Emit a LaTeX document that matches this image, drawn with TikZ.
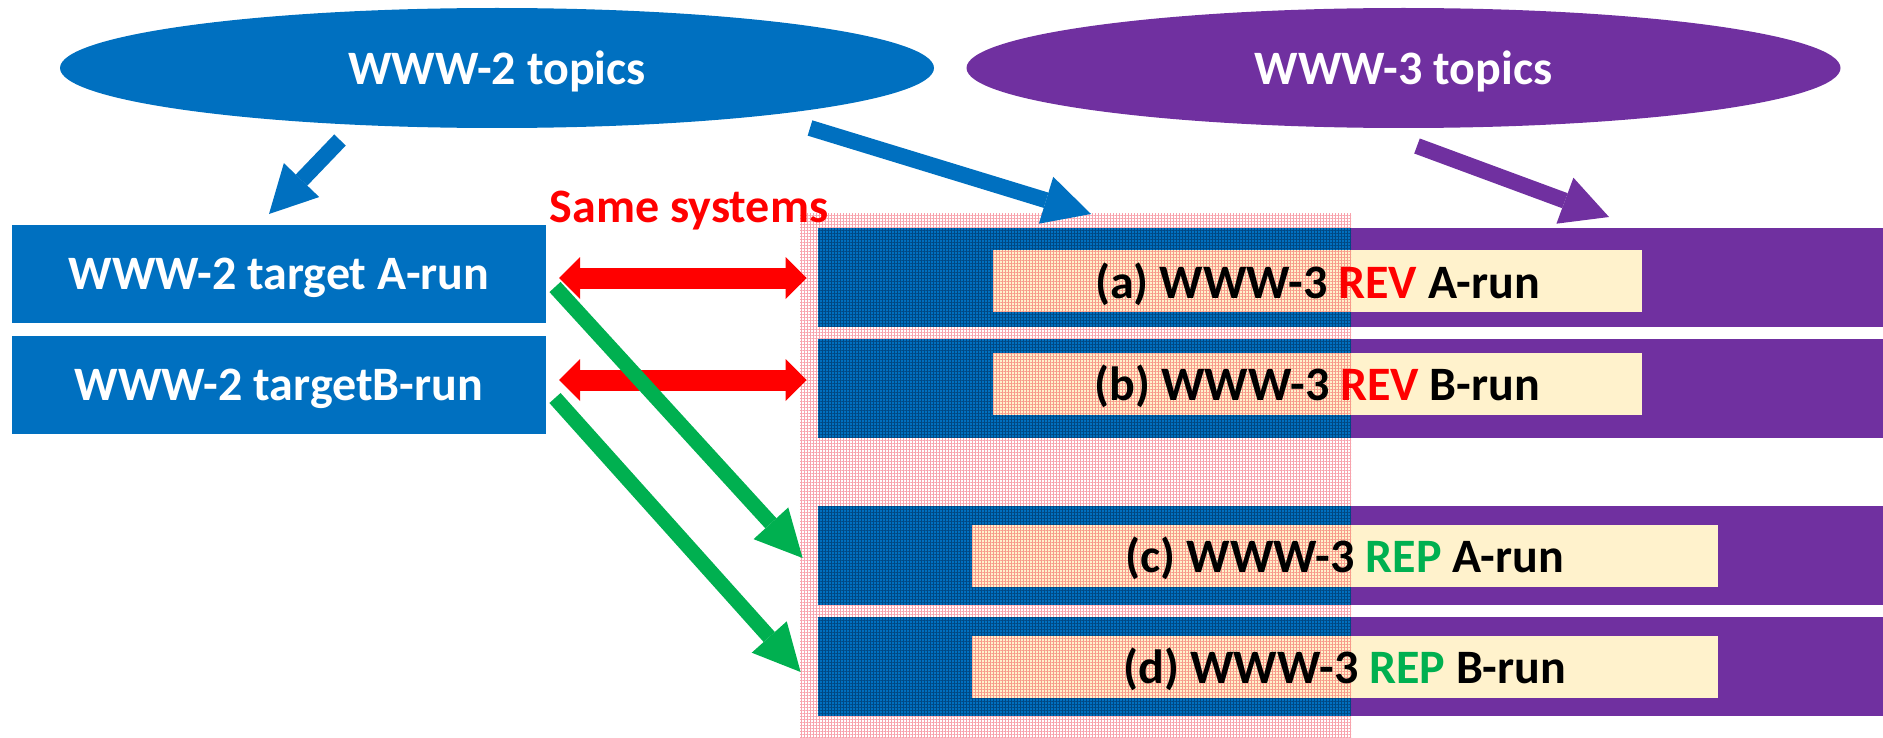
\documentclass[tikz,border=0pt]{standalone}
\usepackage{fontspec}
\setmainfont{Carlito}
\usetikzlibrary{shapes.geometric,arrows.meta,patterns.meta}
\definecolor{ublue}{HTML}{0070C0}
\definecolor{upurple}{HTML}{7030A0}
\definecolor{ured}{HTML}{FF0000}
\definecolor{ugreen}{HTML}{00B050}
\definecolor{ucream}{HTML}{FFF2CC}
\definecolor{upink}{HTML}{F8A4AE}
\tikzdeclarepattern{
  name=pinkgrid,
  type=uncolored,
  bounding box={(-0.75pt,-0.75pt) and (0.75pt,0.75pt)},
  tile size={(1.5pt,1.5pt)},
  code={\draw[line width=0.5pt] (-0.75pt,0pt) -- (0.75pt,0pt) (0pt,-0.75pt) -- (0pt,0.75pt);}
}
\tikzset{
  txt/.style={font=\bfseries\fontsize{24}{28}\selectfont, inner sep=0pt, outer sep=0pt},
  topic/.style={txt, ellipse, text=white, minimum width=437pt, minimum height=60pt, text height=16.5pt, text depth=0pt},
  lbox/.style={txt, fill=ublue, text=white, minimum width=267pt, minimum height=49pt, text depth=0pt},
  bar/.style={inner sep=0pt, fill=upurple, minimum width=541pt, minimum height=49.5pt},
  cbox/.style={txt, fill=ucream, text=black, minimum height=31pt, text depth=0.5pt},
  overlay/.style={inner sep=0pt, pattern=pinkgrid, minimum width=275.5pt, minimum height=262.5pt},
  fatarrow/.style={line width=8pt, -{Triangle[length=23.5pt,width=24.5pt,line width=0pt]}},
  redarrow/.style={draw=ured, line width=10.5pt,
     {Triangle[length=10.5pt,width=21pt,line width=0pt]}-{Triangle[length=10.5pt,width=21pt,line width=0pt]}},
  greenarrow/.style={draw=ugreen, line width=7.5pt, -{Triangle[length=23.5pt,width=23.5pt,line width=0pt]}}
}
\begin{document}
\begin{tikzpicture}[x=0.5pt,y=-0.5pt]
\useasboundingbox (0,0) rectangle (1883,738);
% topics
\node[topic, fill=ublue] (t2) at (497,68) {WWW-2 topics};
\node[topic, fill=upurple] (t3) at (1403.5,68) {WWW-3 topics};
% WWW-2 runs
\node[lbox] (ra) at (279,274) {WWW-2 target A-run};
\node[lbox] (rb) at (279,385) {WWW-2 targetB-run};
% WWW-3 bars
\coordinate (ovE) at (1351,0);
\node[bar] (ba) at (1359,277.5) {};
\node[bar] (bb) at (1359,388.5) {};
\node[bar] (bc) at (1359,555.5) {};
\node[bar] (bd) at (1359,666.5) {};
\foreach \b in {ba,bb,bc,bd}{
  \fill[ublue] (\b.north west) rectangle (\b.south west -| ovE);
}
\node[cbox, minimum width=324.5pt] (ca) at (1317.5,281) {(a) WWW-3 \textcolor{ured}{REV} A-run};
\node[cbox, minimum width=324.5pt] (cb) at (1317.5,383.5) {(b) WWW-3 \textcolor{ured}{REV} B-run};
\node[cbox, minimum width=373pt] (cc) at (1345,555.5) {(c) WWW-3 \textcolor{ugreen}{REP} A-run};
\node[cbox, minimum width=373pt] (cd) at (1345,666.5) {(d) WWW-3 \textcolor{ugreen}{REP} B-run};
% overlay
\begin{scope}[blend mode=multiply]
\node[overlay, pattern color=upink] (ov) at (1075.5,475.5) {};
\end{scope}
% topic arrows
\coordinate (b1s) at (340,140);
\coordinate (b1e) at (269,214);
\coordinate (b2s) at (810,128);
\coordinate (b2e) at (1091,214);
\coordinate (p1s) at (1417,146);
\coordinate (p1e) at (1609,217);
\draw[fatarrow, draw=ublue] (b1s) -- (b1e);
\draw[fatarrow, draw=ublue] (b2s) -- (b2e);
\draw[fatarrow, draw=upurple] (p1s) -- (p1e);
% same systems
\node[txt, text=ured, anchor=base] (same) at (689,222) {Same systems};
\draw[redarrow, shorten <=6.5pt, shorten >=5.5pt] ([yshift=-2pt]ra.east) -- ([yshift=-2pt]ra.east -| ba.west);
\draw[redarrow, shorten <=6.5pt, shorten >=5.5pt] ([yshift=2.5pt]rb.east) -- ([yshift=2.5pt]rb.east -| bb.west);
% green arrows
\draw[greenarrow] ([xshift=4.5pt,yshift=-6.5pt]ra.east) -- ([xshift=-7.5pt,yshift=-1.25pt]bc.west);
\draw[greenarrow] ([xshift=4.5pt,yshift=-6.5pt]rb.east) -- ([xshift=-8.5pt,yshift=-2.75pt]bd.west);
\end{tikzpicture}
\end{document}
